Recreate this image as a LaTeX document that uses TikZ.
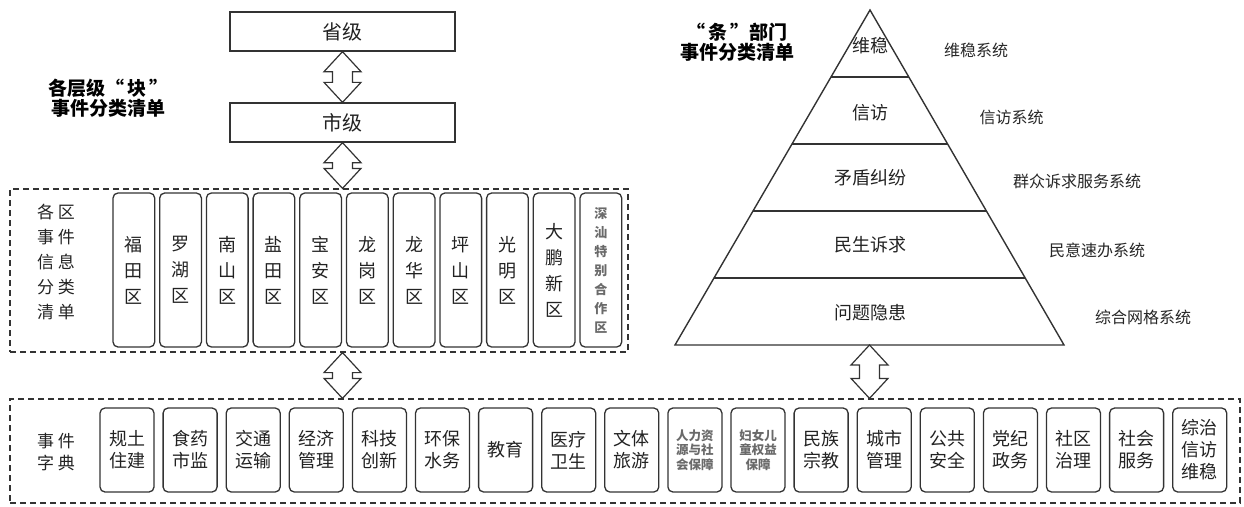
\documentclass[tikz,border=0pt]{standalone}
\usepackage{fontspec}
\setmainfont{Noto Sans CJK SC}
\usetikzlibrary{calc}
\definecolor{ln}{HTML}{333333}
\definecolor{tx}{HTML}{222222}
\definecolor{sm}{HTML}{6A6A6A}
\newcommand\dblarrow[2]{%
  \draw[arr] (#1) -- ($(#1)+(-18.5,20)$) -- ($(#1)+(-10,20)$) -- ($(#2)+(-10,-20)$)
    -- ($(#2)+(-18.5,-20)$) -- (#2) -- ($(#2)+(18.5,-20)$) -- ($(#2)+(10,-20)$)
    -- ($(#1)+(10,20)$) -- ($(#1)+(18.5,20)$) -- cycle;}
\begin{document}
\begin{tikzpicture}[x=1pt,y=-1pt,
  lvl/.style={draw=ln, line width=1.3pt, minimum width=225pt, minimum height=39pt, inner sep=0pt,
    font=\fontsize{20pt}{24pt}\selectfont, text=tx},
  cont/.style={draw=ln, line width=1.2pt, dash pattern=on 6pt off 4pt, inner sep=0pt},
  dbox/.style={draw=ln, line width=1.3pt, rounded corners=5pt, minimum width=41.7pt,
    minimum height=154pt, inner sep=0pt, align=center, font=\fontsize{18pt}{26pt}\selectfont, text=tx},
  ebox/.style={draw=ln, line width=1.3pt, rounded corners=5pt, minimum width=54pt,
    minimum height=84pt, inner sep=0pt, align=center, font=\fontsize{18pt}{22pt}\selectfont, text=tx},
  dsmall/.style={font=\bfseries\fontsize{13pt}{19pt}\selectfont, text=sm},
  esmall/.style={font=\bfseries\fontsize{12.5pt}{14.5pt}\selectfont, text=sm},
  ttl/.style={font=\bfseries\fontsize{19pt}{20.5pt}\selectfont, align=center, text=black, inner sep=0pt},
  lab/.style={font=\fontsize{17pt}{25pt}\selectfont, align=center, text=tx, inner sep=0pt},
  ptxt/.style={font=\fontsize{18pt}{22pt}\selectfont, text=tx, inner sep=0pt},
  rtxt/.style={font=\fontsize{16pt}{20pt}\selectfont, text=black!85, inner sep=0pt},
  arr/.style={draw=ln, fill=white, line width=1.2pt, line join=miter},
  pyr/.style={draw=ln, line width=1.4pt, line join=miter}]
\useasboundingbox (0,0) rectangle (1244,506);

% ---- titles
\node[ttl] (t1) at (108.5,98) {各层级“\,块\,”\\事件分类清单};
\node[ttl] (t2) at (737,42) {“\,条\,”部门\\事件分类清单};

% ---- levels
\node[lvl] (prov) at (342.5,31.5) {省级};
\node[lvl] (city) at (342.5,122.5) {市级};

% ---- district container
\node[cont, minimum width=618pt, minimum height=163pt] (dist) at (319,270.5) {};
\node[lab] (dlab) at (56,262) {各\hspace{4pt}区\\事\hspace{4pt}件\\信\hspace{4pt}息\\分\hspace{4pt}类\\清\hspace{4pt}单};
\foreach \t [count=\i from 0] in {{福\\田\\区},{罗\\湖\\区},{南\\山\\区},{盐\\田\\区},{宝\\安\\区},
  {龙\\岗\\区},{龙\\华\\区},{坪\\山\\区},{光\\明\\区},{大\\鹏\\新\\区}}
  \node[dbox] (d\i) at ({133.85+46.7*\i},270) {\t};
\node[dbox, dsmall] (d10) at ({133.85+46.7*10},270) {深\\汕\\特\\别\\合\\作\\区};

% ---- dictionary container
\node[cont, minimum width=1230pt, minimum height=104pt] (dict) at (625,451) {};
\node[lab, font=\fontsize{17pt}{22pt}\selectfont] (elab) at (56,452) {事\hspace{4pt}件\\字\hspace{4pt}典};
\foreach \t [count=\i from 0] in {{规土\\住建},{食药\\市监},{交通\\运输},{经济\\管理},{科技\\创新},
  {环保\\水务},{教育},{医疗\\卫生},{文体\\旅游}}
  \node[ebox] (e\i) at ({127+63.1*\i},450) {\t};
\node[ebox, esmall] (e9) at ({127+63.1*9},450) {人力资\\源与社\\会保障};
\node[ebox, esmall] (e10) at ({127+63.1*10},450) {妇女儿\\童权益\\保障};
\foreach \t [count=\i from 11] in {{民族\\宗教},{城市\\管理},{公共\\安全},{党纪\\政务},{社区\\治理},
  {社会\\服务},{综治\\信访\\维稳}}
  \node[ebox] (e\i) at ({127+63.1*\i},450) {\t};

% ---- pyramid
\coordinate (A) at (870,10);
\coordinate (L) at (675,345);
\coordinate (R) at (1064,345);
\draw[pyr] (A) -- (L) -- (R) -- cycle;
\foreach \f in {0.2,0.4,0.6,0.8}
  \draw[pyr] ($(A)!\f!(L)$) -- ($(A)!\f!(R)$);
\node[ptxt] (p1) at (870,46) {维稳};
\node[ptxt] (p2) at (870,113) {信访};
\node[ptxt] (p3) at (870,178) {矛盾纠纷};
\node[ptxt] (p4) at (870,245) {民生诉求};
\node[ptxt] (p5) at (870,313) {问题隐患};
\node[rtxt] (r1) at (976,50) {维稳系统};
\node[rtxt] (r2) at (1011.5,117) {信访系统};
\node[rtxt] (r3) at (1077,181) {群众诉求服务系统};
\node[rtxt] (r4) at (1097,250) {民意速办系统};
\node[rtxt] (r5) at (1143,317) {综合网格系统};
\coordinate (B) at ($(L)!0.5!(R)$);

% ---- arrows
\coordinate (a1t) at (prov.south);
\coordinate (a1b) at (city.north);
\coordinate (a2t) at (city.south);
\coordinate (a2b) at (dist.north -| city.south);
\coordinate (a3t) at (dist.south -| city.south);
\coordinate (a3b) at (dict.north -| city.south);
\coordinate (a4b) at (dict.north -| B);
\dblarrow{a1t}{a1b}
\dblarrow{a2t}{a2b}
\dblarrow{a3t}{a3b}
\dblarrow{B}{a4b}
\end{tikzpicture}
\end{document}
